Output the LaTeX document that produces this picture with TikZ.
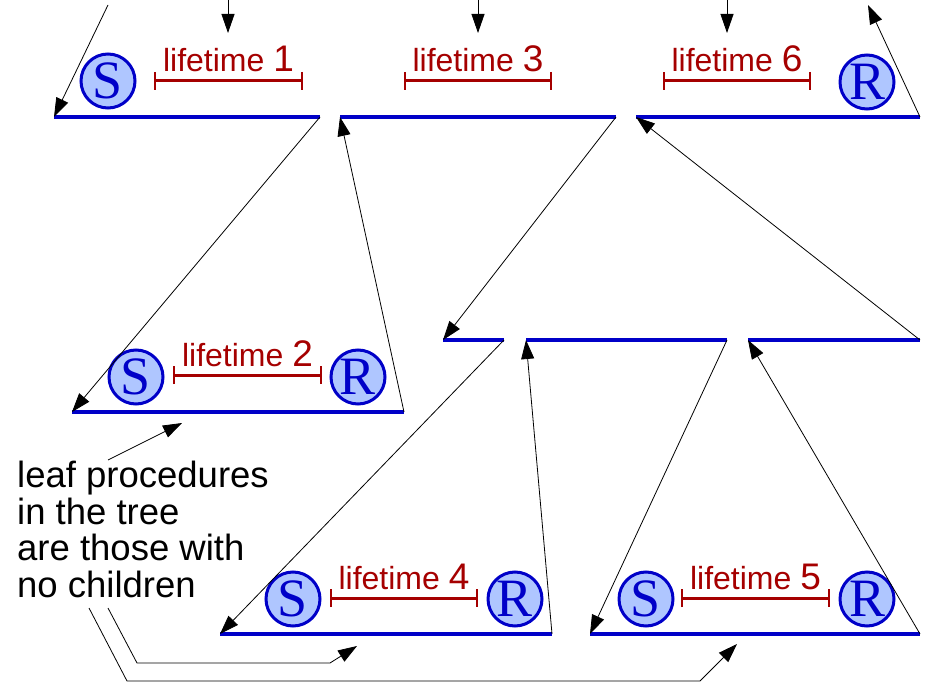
\documentclass[tikz,border=0pt]{standalone}
\usepackage{fontspec}
\setmainfont{Liberation Sans}
\newfontfamily\srfont{Liberation Serif}
\usetikzlibrary{arrows.meta,calc}
\definecolor{procblue}{RGB}{0,0,200}
\definecolor{srfill}{RGB}{175,198,255}
\definecolor{lifered}{RGB}{165,0,0}
\tikzset{
  proc/.style={procblue, line width=3.5pt},
  call/.style={-{Triangle[length=19pt,width=13pt]}, line width=0.8pt},
  sr/.style={circle, draw=procblue, fill=srfill, line width=3pt, minimum size=54pt,
    inner sep=0pt, text=procblue, font=\srfont\fontsize{54}{54}\selectfont},
  lifebar/.style={lifered, line width=3pt, {Bar[width=18pt,line width=2pt]}-{Bar[width=18pt,line width=2pt]}},
  lifetext/.style={lifered, anchor=base, inner sep=0pt, font=\fontsize{32}{32}\selectfont},
  note/.style={align=left, inner sep=0pt, font=\fontsize{36.5}{36.5}\selectfont}
}
\newcommand{\lifenum}[1]{{\fontsize{37}{37}\selectfont #1}}

\begin{document}
\begin{tikzpicture}[x=1pt,y=-1pt]
\useasboundingbox (0,0) rectangle (928,684);

% procedure activations
\coordinate (aw) at (54,117);  \coordinate (ae) at (320,117);
\coordinate (bw) at (340,117); \coordinate (be) at (616,117);
\coordinate (cw) at (636,117); \coordinate (ce) at (920,117);
\coordinate (dw) at (72,412);  \coordinate (de) at (404,412);
\coordinate (ew) at (443,340); \coordinate (ee) at (504,340);
\coordinate (fw) at (526,340); \coordinate (fe) at (727,340);
\coordinate (gw) at (748,340); \coordinate (ge) at (920,340);
\coordinate (hw) at (220,634); \coordinate (he) at (552,634);
\coordinate (iw) at (590,634); \coordinate (ie) at (920,634);
\foreach \p in {a,...,i} \draw[proc] (\p w) -- (\p e);

% save / restore
\node[sr] (s1) at (108,81) {S};
\node[sr] (r6) at (867,82) {R};
\node[sr] (s2) at (136,377) {S};
\node[sr] (r2) at (358,377) {R};
\node[sr] (s4) at (293,599) {S};
\node[sr] (r4) at (515,599) {R};
\node[sr] (s5) at (646,599) {S};
\node[sr] (r5) at (867,599) {R};

% lifetimes
\coordinate (b1w) at (154,81);  \coordinate (b1e) at (303,81);
\coordinate (b3w) at (404,81);  \coordinate (b3e) at (552,81);
\coordinate (b6w) at (663,81);  \coordinate (b6e) at (811,81);
\coordinate (b2w) at (173,375); \coordinate (b2e) at (322,375);
\coordinate (b4w) at (330,598); \coordinate (b4e) at (478,598);
\coordinate (b5w) at (681,598); \coordinate (b5e) at (830,598);
\foreach \n in {1,...,6} {
  \draw[lifebar] (b\n w) -- (b\n e);
  \node[lifetext] (life\n) at ($(b\n w)!0.5!(b\n e)+(0,-9)$) {lifetime \lifenum{\n}};
}

% calls and returns
\foreach \x [count=\i] in {228,478,727} {
  \coordinate (top\i) at (\x,0);
  \coordinate (hit\i) at (\x,33);
  \draw[call] (top\i) -- (hit\i);
}
\coordinate (in) at (108,5);
\coordinate (out) at (868,5);
\draw[call] (in) -- (aw);
\draw[call] (ae) -- (dw);
\draw[call] (de) -- (bw);
\draw[call] (be) -- (ew);
\draw[call] (ee) -- (hw);
\draw[call] (he) -- (fw);
\draw[call] (fe) -- (iw);
\draw[call] (ie) -- (gw);
\draw[call] (ge) -- (cw);
\draw[call] (ce) -- (out);

% note
\node[note, anchor=base west] (leaf) at (17,597) {leaf procedures\\in the tree\\are those with\\no children};
\coordinate (n0) at (108,460); \coordinate (n1) at (182,423);
\draw[call] (n0) -- (n1);
\coordinate (m0) at (108,608); \coordinate (m1) at (137,663);
\coordinate (m2) at (330,663); \coordinate (m3) at (357,646);
\draw[call] (m0) -- (m1) -- (m2) -- (m3);
\coordinate (k0) at (89,608);  \coordinate (k1) at (127,681);
\coordinate (k2) at (700,681); \coordinate (k3) at (737,644);
\draw[call] (k0) -- (k1) -- (k2) -- (k3);
\end{tikzpicture}
\end{document}
